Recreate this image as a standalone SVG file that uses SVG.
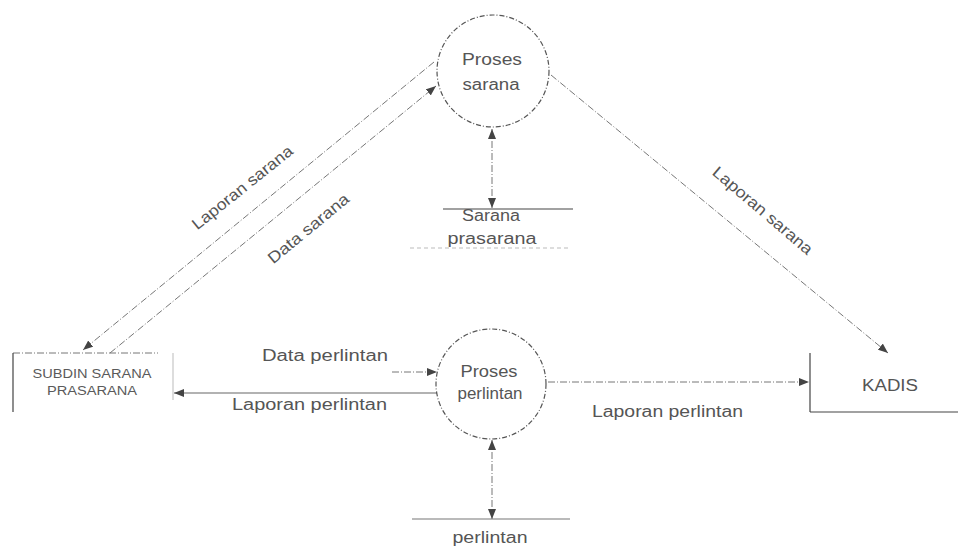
<svg xmlns="http://www.w3.org/2000/svg" width="959" height="554" viewBox="0 0 959 554">
  <style>
    .bg { fill: #ffffff; }
    .proc { fill: none; stroke: #555; stroke-width: 1.2; stroke-dasharray: 5 2 1 2; }
    .flow { fill: none; stroke: #777; stroke-width: 1; stroke-dasharray: 7 2 1 2; }
    .solid { fill: none; stroke: #444; stroke-width: 1.2; }
    .faint { fill: none; stroke: #bbb; stroke-width: 1; stroke-dasharray: 4 3; }
    .lbl { font-family: "Liberation Sans", Arial, sans-serif; font-size: 16px; fill: #555; }
    .mid { text-anchor: middle; }
    .ent { font-family: "Liberation Sans", Arial, sans-serif; font-size: 12px; fill: #5a5a5a; text-anchor: middle; }
  </style>
  <defs>
    <marker id="arrow" viewBox="0 0 10 8" refX="10" refY="4" markerWidth="10" markerHeight="8" markerUnits="userSpaceOnUse" orient="auto">
      <path d="M0,0 L10,4 L0,8 Z" fill="#444"/>
    </marker>
    <marker id="arrowStart" viewBox="0 0 10 8" refX="0" refY="4" markerWidth="10" markerHeight="8" markerUnits="userSpaceOnUse" orient="auto">
      <path d="M10,0 L0,4 L10,8 Z" fill="#444"/>
    </marker>
  </defs>

  <rect class="bg" x="0" y="0" width="959" height="554"/>

  <!-- data flows -->
  <g id="connectors">
    <!-- Proses sarana -> SUBDIN : Laporan sarana -->
    <line class="flow" x1="434" y1="62" x2="83" y2="350" marker-end="url(#arrow)"/>
    <!-- SUBDIN -> Proses sarana : Data sarana -->
    <line class="flow" x1="110" y1="353" x2="436" y2="86" marker-end="url(#arrow)"/>
    <!-- Proses sarana -> KADIS : Laporan sarana -->
    <line class="flow" x1="551" y1="75" x2="888" y2="353" marker-end="url(#arrow)"/>
    <!-- Proses sarana <-> Sarana prasarana -->
    <line class="flow" x1="492" y1="129" x2="492" y2="208" marker-start="url(#arrowStart)" marker-end="url(#arrow)"/>
    <!-- Data perlintan -> Proses perlintan -->
    <line class="flow" x1="392" y1="372" x2="437" y2="372" marker-end="url(#arrow)"/>
    <!-- Proses perlintan -> SUBDIN : Laporan perlintan -->
    <line class="solid" x1="437" y1="393" x2="174" y2="393" marker-end="url(#arrow)" style="stroke:#666"/>
    <!-- Proses perlintan -> KADIS : Laporan perlintan -->
    <line class="flow" x1="548" y1="382" x2="809" y2="382" marker-end="url(#arrow)"/>
    <!-- Proses perlintan <-> perlintan -->
    <line class="flow" x1="492" y1="440" x2="492" y2="519" marker-start="url(#arrowStart)" marker-end="url(#arrow)"/>

    <!-- flow labels -->
    <text class="lbl mid" transform="translate(242,187) rotate(-38.7)" y="6" textLength="124" lengthAdjust="spacingAndGlyphs">Laporan sarana</text>
    <text class="lbl mid" transform="translate(308,228) rotate(-39.5)" y="6" textLength="100" lengthAdjust="spacingAndGlyphs">Data sarana</text>
    <text class="lbl mid" transform="translate(763,210) rotate(40.5)" y="6" textLength="126" lengthAdjust="spacingAndGlyphs">Laporan sarana</text>
    <text class="lbl" x="262" y="361" textLength="126" lengthAdjust="spacingAndGlyphs">Data perlintan</text>
    <text class="lbl" x="232" y="410" textLength="155" lengthAdjust="spacingAndGlyphs">Laporan perlintan</text>
    <text class="lbl" x="592" y="417" textLength="151" lengthAdjust="spacingAndGlyphs">Laporan perlintan</text>
  </g>

  <!-- process: Proses sarana -->
  <g id="proses-sarana">
    <circle class="proc" cx="493" cy="71" r="56"/>
    <text class="lbl mid" x="492" y="65" textLength="60" lengthAdjust="spacingAndGlyphs">Proses</text>
    <text class="lbl mid" x="491" y="90" textLength="57" lengthAdjust="spacingAndGlyphs">sarana</text>
  </g>

  <!-- process: Proses perlintan -->
  <g id="proses-perlintan">
    <circle class="proc" cx="491" cy="384" r="55"/>
    <text class="lbl mid" x="489" y="377" textLength="57" lengthAdjust="spacingAndGlyphs">Proses</text>
    <text class="lbl mid" x="490" y="399" textLength="65" lengthAdjust="spacingAndGlyphs">perlintan</text>
  </g>

  <!-- data store: Sarana prasarana -->
  <g id="store-sarana">
    <line class="solid" x1="443" y1="209" x2="573" y2="209"/>
    <line class="faint" x1="410" y1="248" x2="570" y2="248"/>
    <text class="lbl mid" x="491" y="221" textLength="58" lengthAdjust="spacingAndGlyphs">Sarana</text>
    <text class="lbl mid" x="492" y="244" textLength="89" lengthAdjust="spacingAndGlyphs">prasarana</text>
  </g>

  <!-- data store: perlintan -->
  <g id="store-perlintan">
    <line class="solid" x1="412" y1="519" x2="570" y2="519" style="stroke:#777"/>
    <text class="lbl mid" x="490" y="543" textLength="75" lengthAdjust="spacingAndGlyphs">perlintan</text>
  </g>

  <!-- external entity: SUBDIN SARANA PRASARANA -->
  <g id="subdin">
    <line class="flow" x1="13" y1="353" x2="158" y2="353"/>
    <line class="solid" x1="13" y1="353" x2="13" y2="412"/>
    <line class="faint" x1="173" y1="353" x2="173" y2="400" style="stroke-dasharray:none"/>
    <text class="ent" x="92" y="378" textLength="119" lengthAdjust="spacingAndGlyphs">SUBDIN SARANA</text>
    <text class="ent" x="92" y="395" textLength="90" lengthAdjust="spacingAndGlyphs">PRASARANA</text>
  </g>

  <!-- external entity: KADIS -->
  <g id="kadis">
    <line class="solid" x1="810" y1="353" x2="810" y2="412"/>
    <line class="solid" x1="810" y1="412" x2="958" y2="412"/>
    <text class="lbl mid" x="890" y="391" textLength="56" lengthAdjust="spacingAndGlyphs">KADIS</text>
  </g>
</svg>
